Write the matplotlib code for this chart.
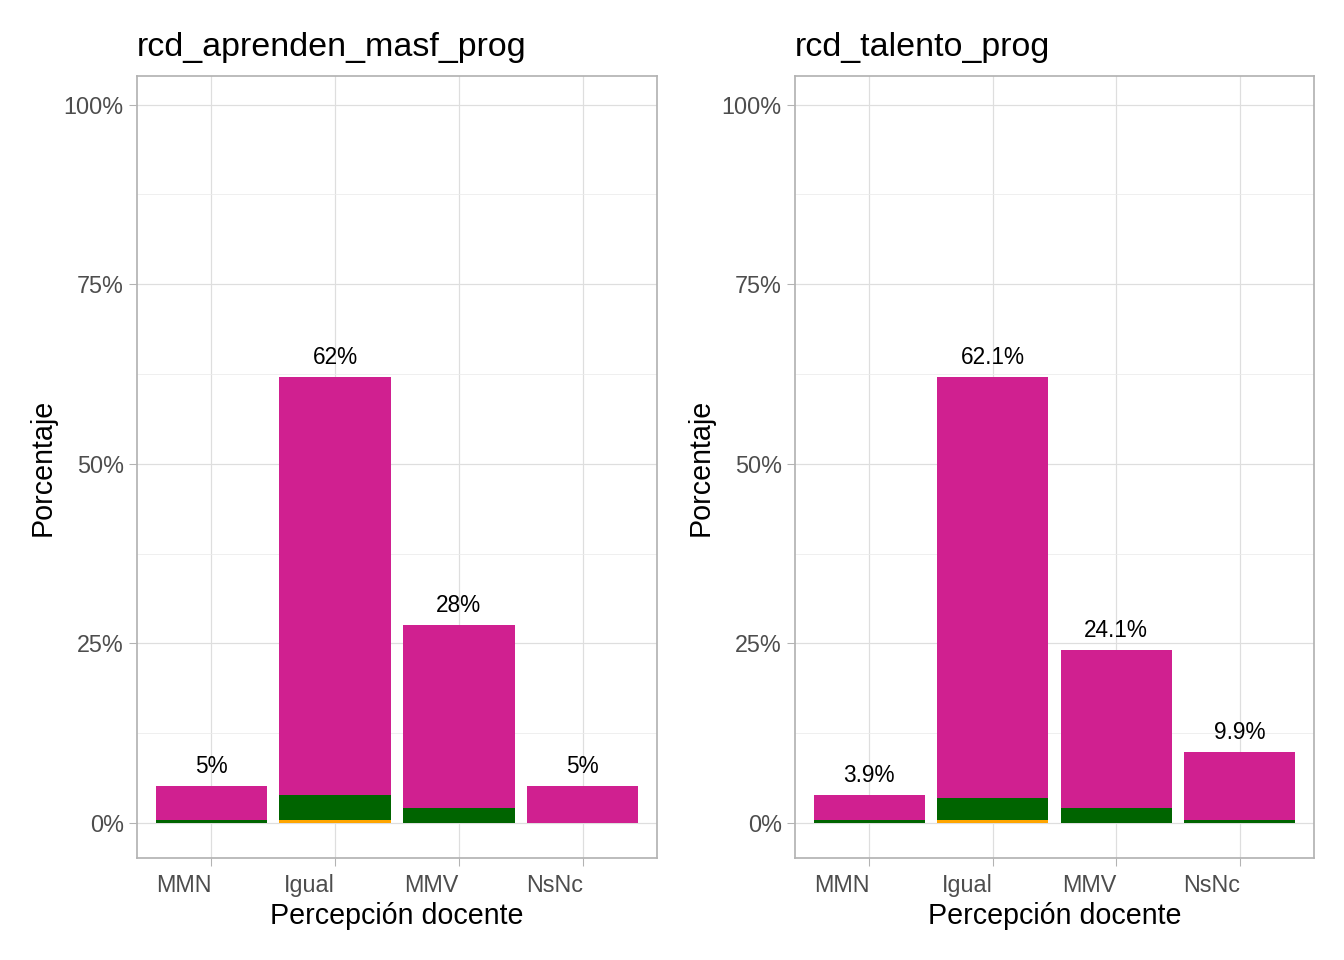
import matplotlib
matplotlib.use("Agg")
import matplotlib.pyplot as plt
import numpy as np

plt.rcParams['font.family'] = ['Liberation Sans', 'DejaVu Sans']

categorias = ['MMN', 'Igual', 'MMV', 'NsNc']

# left panel: rcd_aprenden_masf_prog (percent per segment, bottom -> top)
izq_naranja = [0.0, 0.4, 0.0, 0.0]
izq_verde = [0.4, 3.5, 2.1, 0.0]
izq_rosa = [4.75, 58.2, 25.5, 5.15]
izq_etiquetas = ['5%', '62%', '28%', '5%']

# right panel: rcd_talento_prog
der_naranja = [0.0, 0.4, 0.0, 0.0]
der_verde = [0.4, 3.1, 2.1, 0.4]
der_rosa = [3.5, 58.6, 22.0, 9.5]
der_etiquetas = ['3.9%', '62.1%', '24.1%', '9.9%']

titulos = ['rcd_aprenden_masf_prog', 'rcd_talento_prog']

c_naranja = '#FFA500'
c_verde = '#006400'
c_rosa = '#D02090'

fig = plt.figure(figsize=(14, 10), dpi=96)
paneles = [
    (fig.add_axes([137/1344, 1 - 858/960, 520/1344, 782/960]),
     izq_naranja, izq_verde, izq_rosa, izq_etiquetas, titulos[0]),
    (fig.add_axes([795/1344, 1 - 858/960, 519/1344, 782/960]),
     der_naranja, der_verde, der_rosa, der_etiquetas, titulos[1]),
]

for ax, nar, ver, ros, etq, tit in paneles:
    x = np.arange(1, len(categorias) + 1)
    nar = np.array(nar)
    ver = np.array(ver)
    ros = np.array(ros)
    ax.bar(x, nar, width=0.9, color=c_naranja, zorder=3)
    ax.bar(x, ver, width=0.9, bottom=nar, color=c_verde, zorder=3)
    ax.bar(x, ros, width=0.9, bottom=nar + ver, color=c_rosa, zorder=3)
    total = nar + ver + ros
    for xi, t, lab in zip(x, total, etq):
        ax.text(xi, t + 1.1, lab, ha='center', va='bottom', fontsize=17, color='black')

    ax.set_xlim(0.4, 4.6)
    ax.set_ylim(-4.9, 104.0)
    ax.set_xticks(x)
    ax.set_xticklabels(categorias, ha='right')
    ax.set_yticks([0, 25, 50, 75, 100])
    ax.set_yticklabels(['0%', '25%', '50%', '75%', '100%'])
    ax.set_yticks([12.5, 37.5, 62.5, 87.5], minor=True)
    ax.grid(which='major', color='#DEDEDE', linewidth=0.9, zorder=0)
    ax.grid(which='minor', axis='y', color='#EBEBEB', linewidth=0.6, zorder=0)
    ax.tick_params(axis='both', which='major', length=6, color='#B3B3B3',
                   labelsize=17.5, labelcolor='#4D4D4D', pad=4)
    ax.tick_params(axis='x', which='major', pad=6)
    ax.tick_params(axis='y', which='minor', length=0)
    for s in ax.spines.values():
        s.set_color('#B3B3B3')
        s.set_linewidth(1.3)
    ax.set_xlabel('Percepción docente', fontsize=21.5, labelpad=4)
    ax.set_ylabel('Porcentaje', fontsize=21.5, labelpad=5)
    ax.set_title(tit, loc='left', fontsize=25.5, pad=15)

fig.savefig('out.png', dpi=96, facecolor='white')
